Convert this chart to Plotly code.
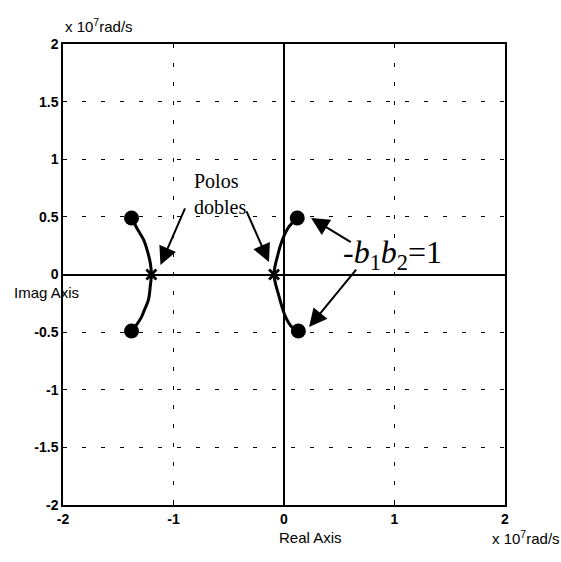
import plotly.graph_objects as go

# Root locus of the coupled-pole system (axes in units of 1e7 rad/s)
x_ticks = [-2, -1, 0, 1, 2]
x_tick_text = ["-2", "-1", "0", "1", "2"]
y_ticks = [-2, -1.5, -1, -0.5, 0, 0.5, 1, 1.5, 2]
y_tick_text = ["-2", "-1.5", "-1", "-0.5", "0", "0.5", "1", "1.5", "2"]

# Left branch: from upper end point through the double pole to the lower end point
left_re = [-1.38, -1.33, -1.27, -1.235, -1.21, -1.20, -1.21, -1.227, -1.26, -1.29, -1.33, -1.38]
left_im = [0.49, 0.40, 0.30, 0.20, 0.10, 0.0, -0.10, -0.22, -0.30, -0.37, -0.43, -0.49]

# Right branch
right_re = [0.12, 0.045, -0.015, -0.06, -0.09, -0.045, 0.015, 0.075, 0.13]
right_im = [0.49, 0.415, 0.30, 0.155, 0.0, -0.19, -0.37, -0.46, -0.49]

# Double poles (open-loop) and end points for -b1*b2 = 1
pole_re = [-1.20, -0.09]
pole_im = [0.0, 0.0]
end_re = [-1.38, -1.38, 0.12, 0.13]
end_im = [0.49, -0.49, 0.49, -0.49]

fig = go.Figure()
for xs, ys in [(left_re, left_im), (right_re, right_im)]:
    fig.add_trace(go.Scatter(x=xs, y=ys, mode="lines",
                             line=dict(color="black", width=3, shape="spline"),
                             showlegend=False, hoverinfo="skip"))
fig.add_trace(go.Scatter(x=end_re, y=end_im, mode="markers",
                         marker=dict(color="black", size=15, symbol="circle"),
                         showlegend=False))
fig.add_trace(go.Scatter(x=pole_re, y=pole_im, mode="markers",
                         marker=dict(color="black", size=10, symbol="x-thin",
                                     line=dict(color="black", width=2.8)),
                         showlegend=False))

axis_common = dict(
    range=[-2, 2], showgrid=True, gridcolor="black", gridwidth=1,
    griddash="4px,15px", zeroline=True, zerolinecolor="black", zerolinewidth=2,
    showline=True, mirror=True, linecolor="black", linewidth=1.5,
    ticks="inside", ticklen=4, tickcolor="black",
    tickfont=dict(family="Liberation Sans", size=14, color="black", weight="bold"),
)
fig.update_xaxes(tickvals=x_ticks, ticktext=x_tick_text, **axis_common)
fig.update_yaxes(tickvals=y_ticks, ticktext=y_tick_text, **axis_common)

serif = dict(family="Liberation Serif", color="black")
sans = dict(family="Liberation Sans", size=15, color="black")

annotations = [
    # axis labels and scale factors
    dict(text="Real Axis", xref="paper", yref="paper", x=0.56, y=-0.07,
         xanchor="center", yanchor="middle", showarrow=False, font=sans),
    dict(text="Imag Axis", xref="paper", yref="paper", x=-0.038, y=0.46,
         xanchor="center", yanchor="middle", showarrow=False, font=sans),
    dict(text="x 10<sup>7</sup>rad/s", xref="paper", yref="paper", x=0.0, y=1.016,
         xanchor="left", yanchor="bottom", showarrow=False, font=sans),
    dict(text="x 10<sup>7</sup>rad/s", xref="paper", yref="paper", x=0.966, y=-0.07,
         xanchor="left", yanchor="middle", showarrow=False, font=sans),
    # text callouts
    dict(text="Polos<br>dobles", xref="x", yref="y", x=-0.835, y=0.7,
         xanchor="left", yanchor="middle", align="left", showarrow=False,
         font=dict(size=20, **serif)),
    dict(text="-<i>b</i><sub>1</sub><i>b</i><sub>2</sub>=1", xref="x", yref="y",
         x=0.52, y=0.17, xanchor="left", yanchor="middle", showarrow=False,
         font=dict(size=32, **serif)),
]

# arrows: (tail_x, tail_y, head_x, head_y)
arrows = [
    (-0.89, 0.586, -1.118, 0.083),
    (-0.345, 0.56, -0.136, 0.108),
    (0.618, 0.273, 0.245, 0.49),
    (0.664, 0.056, 0.227, -0.456),
]
for tx, ty, hx, hy in arrows:
    annotations.append(dict(x=hx, y=hy, ax=tx, ay=ty, xref="x", yref="y",
                            axref="x", ayref="y", text="", showarrow=True,
                            arrowhead=2, arrowsize=1.8, arrowwidth=2,
                            arrowcolor="black"))

fig.update_layout(
    width=561, height=562,
    margin=dict(l=63, r=56, t=44, b=57),
    plot_bgcolor="white", paper_bgcolor="white",
    annotations=annotations,
)

fig.write_html("out.html")
